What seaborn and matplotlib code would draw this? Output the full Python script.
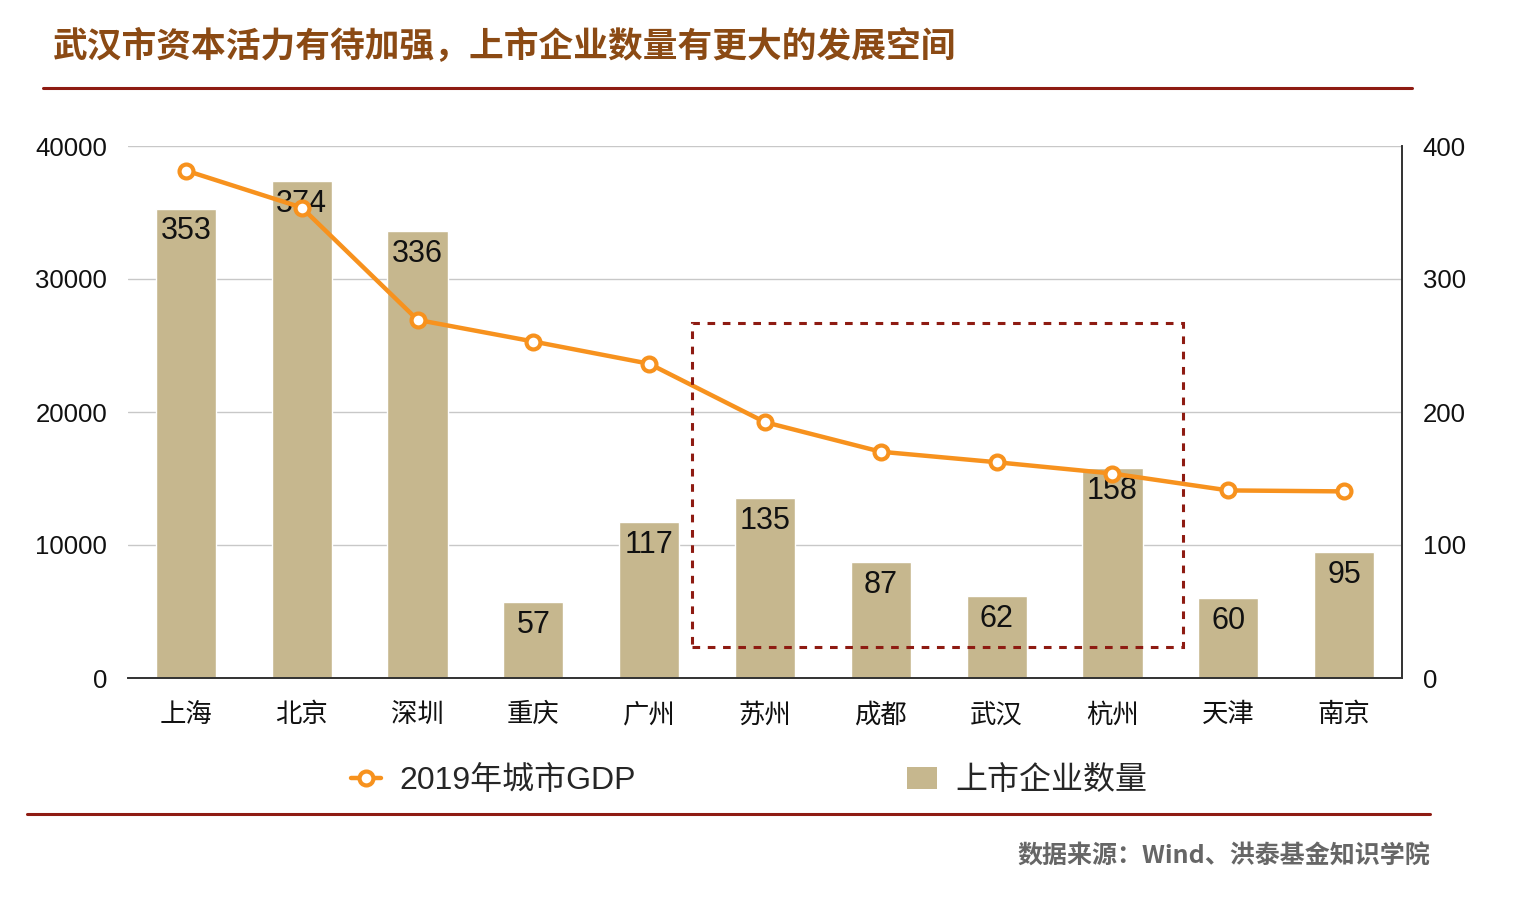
import matplotlib
matplotlib.use("Agg")
import matplotlib.pyplot as plt
from matplotlib.lines import Line2D
from matplotlib.patches import Patch, Rectangle
import seaborn as sns
import pandas as pd

cities = ["上海", "北京", "深圳", "重庆", "广州", "苏州", "成都", "武汉", "杭州", "天津", "南京"]
gdp = [38155, 35371, 26927, 25300, 23628, 19236, 17012, 16223, 15373, 14104, 14030]
listed = [353, 374, 336, 57, 117, 135, 87, 62, 158, 60, 95]
left_ticks = [0, 10000, 20000, 30000, 40000]
right_ticks = [0, 100, 200, 300, 400]

df = pd.DataFrame({"city": cities, "gdp": gdp, "listed": listed})

sns.set_theme(style="white")
plt.rcParams["font.family"] = ["Liberation Sans", "Noto Sans CJK SC", "DejaVu Sans"]

bar_color = "#C6B78E"
line_color = "#F7921E"
red = "#8E1B12"

fig = plt.figure(figsize=(15.38, 8.98), dpi=100)
ax = fig.add_axes([128 / 1538, 1 - 678 / 898, (1402 - 128) / 1538, (678 - 146) / 898])
ax2 = ax.twinx()

# bars (right scale) go on the lower axes together with the grid
sns.barplot(data=df, x="city", y="listed", color=bar_color, width=0.52,
            saturation=1, ax=ax2, zorder=2)
ax2.set_ylim(0, 400)
ax2.set_yticks(right_ticks)
ax2.yaxis.grid(True, color="#C8C8C8", linewidth=1, zorder=0)
ax2.set_axisbelow(True)
for p, v in zip(ax2.patches, listed):
    ax2.text(p.get_x() + p.get_width() / 2, v - 6, str(v), ha="center", va="top",
             fontsize=22, color="#111111", zorder=3)

# GDP line (left scale) on top
sns.lineplot(data=df, x="city", y="gdp", sort=False, color=line_color, linewidth=3.2,
             marker="o", markersize=10, markerfacecolor="white",
             markeredgecolor=line_color, markeredgewidth=3, ax=ax)
ax.set_ylim(0, 40000)
ax.set_yticks(left_ticks)
ax.set_xlim(-0.5, len(cities) - 0.5)
ax.set_zorder(ax2.get_zorder() + 1)
ax.patch.set_visible(False)

for a in (ax, ax2):
    a.set_xlabel("")
    a.set_ylabel("")
    a.tick_params(length=0)
    a.spines["top"].set_visible(False)
    a.spines["left"].set_visible(False)
    a.spines["right"].set_color("#333333")
    a.spines["bottom"].set_color("#333333")
ax.tick_params(axis="y", labelsize=18.5, pad=15, colors="#111111")
ax2.tick_params(axis="y", labelsize=18.5, pad=15, colors="#111111")
ax.tick_params(axis="x", labelsize=19, pad=18, colors="#111111")
ax.set_xticks(range(len(cities)))
ax.set_xticklabels(cities)

# dashed highlight box around 苏州 .. 杭州
ax.add_patch(Rectangle((4.37, 2330), 8.61 - 4.37, 26700 - 2330, fill=False,
                       edgecolor=red, linestyle=(0, (2.5, 2.5)), linewidth=2.2,
                       zorder=5, clip_on=False))

# title and rules
fig.text(53 / 1538, 1 - 47 / 898, "武汉市资本活力有待加强，上市企业数量有更大的发展空间",
         fontsize=25, fontweight="bold", color="#8B4A14", va="center", ha="left",
         family=["Noto Sans CJK SC", "DejaVu Sans"])
fig.add_artist(Line2D([43 / 1538, 1412 / 1538], [1 - 88 / 898] * 2, color=red, linewidth=2.2))
fig.add_artist(Line2D([27 / 1538, 1430 / 1538], [1 - 814 / 898] * 2, color=red, linewidth=2.2))

handles = [Line2D([], [], color=line_color, linewidth=3.2, marker="o", markersize=10,
                  markerfacecolor="white", markeredgecolor=line_color, markeredgewidth=3),
           Patch(facecolor=bar_color, edgecolor="none")]
fig.legend(handles, ["2019年城市GDP", "上市企业数量"], loc="center",
           bbox_to_anchor=(749 / 1538, 1 - 781 / 898), ncol=2, frameon=False,
           fontsize=23, handlelength=0.95, handletextpad=0.55, columnspacing=8.5)

fig.text(1430 / 1538, 1 - 857 / 898, "数据来源：Wind、洪泰基金知识学院", fontsize=18,
         fontweight="bold", color="#666666", ha="right", va="center",
         family=["Noto Sans CJK SC", "DejaVu Sans"])

fig.savefig("out.png", dpi=100)
